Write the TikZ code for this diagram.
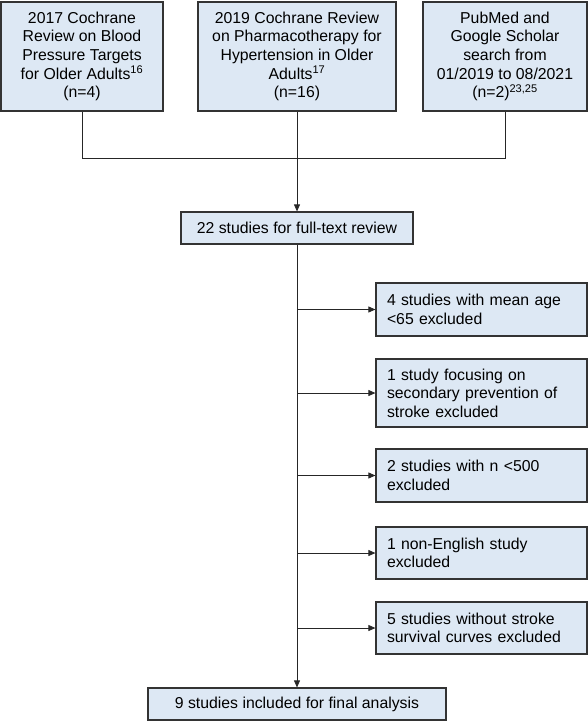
\documentclass[tikz,border=0pt]{standalone}
\usepackage{fontspec}
\setmainfont{Liberation Sans}
\usetikzlibrary{arrows.meta}
\definecolor{boxfill}{HTML}{DDE8F4}
\definecolor{boxline}{HTML}{333333}
\begin{document}
\begin{tikzpicture}[x=1pt,y=-1pt,
  box/.style={draw=boxline,fill=boxfill,line width=1.2pt,inner sep=0pt,font=\fontsize{15.8}{18.6}\selectfont},
  topbox/.style={box,align=center},
  exbox/.style={box,align=left,text width=189pt,minimum width=211pt},
  conn/.style={draw=black!85,line width=0.8pt},
  arr/.style={conn,-{Triangle[length=7pt,width=6pt]}}
]
\useasboundingbox (0,0) rectangle (588,721);
\node[topbox,minimum width=162pt,minimum height=109pt] (b1) at (82,56.5)
  {2017 Cochrane\\Review on Blood\\Pressure Targets\\for Older Adults\textsuperscript{16}\\(n=4)};
\node[topbox,minimum width=198pt,minimum height=109pt] (b2) at (297,56.5)
  {2019 Cochrane Review\\on Pharmacotherapy for\\Hypertension in Older\\Adults\textsuperscript{17}\\(n=16)};
\node[topbox,minimum width=164pt,minimum height=109pt] (b3) at (505,56.5)
  {PubMed and\\Google Scholar\\search from\\01/2019 to 08/2021\\(n=2)\textsuperscript{23,25}};
\node[topbox,minimum width=232pt,minimum height=32pt] (full) at (297,228)
  {22 studies for full-text review};
\node[exbox,minimum height=53pt] (e1) at (481.5,309.5)
  {4 studies with mean age\\<65 excluded};
\node[exbox,minimum height=68pt] (e2) at (481.5,393)
  {1 study focusing on\\secondary prevention of\\stroke excluded};
\node[exbox,minimum height=53pt] (e3) at (481.5,475.5)
  {2 studies with n <500\\excluded};
\node[exbox,minimum height=52pt] (e4) at (481.5,553)
  {1 non-English study\\excluded};
\node[exbox,minimum height=52pt] (e5) at (481.5,628)
  {5 studies without stroke\\survival curves excluded};
\node[topbox,minimum width=298pt,minimum height=32pt] (final) at (297,704)
  {9 studies included for final analysis};
\coordinate (j1) at (82,158);
\coordinate (j3) at (505,158);
\draw[conn] (b1.south) -- (j1) -- (j3) -- (b3.south);
\draw[arr] (b2.south) -- (full.north);
\draw[arr] (full.south) -- (final.north);
\foreach \e in {e1,e2,e3,e4,e5}
  \draw[arr] (final.north |- \e.west) -- (\e.west);
\end{tikzpicture}
\end{document}
